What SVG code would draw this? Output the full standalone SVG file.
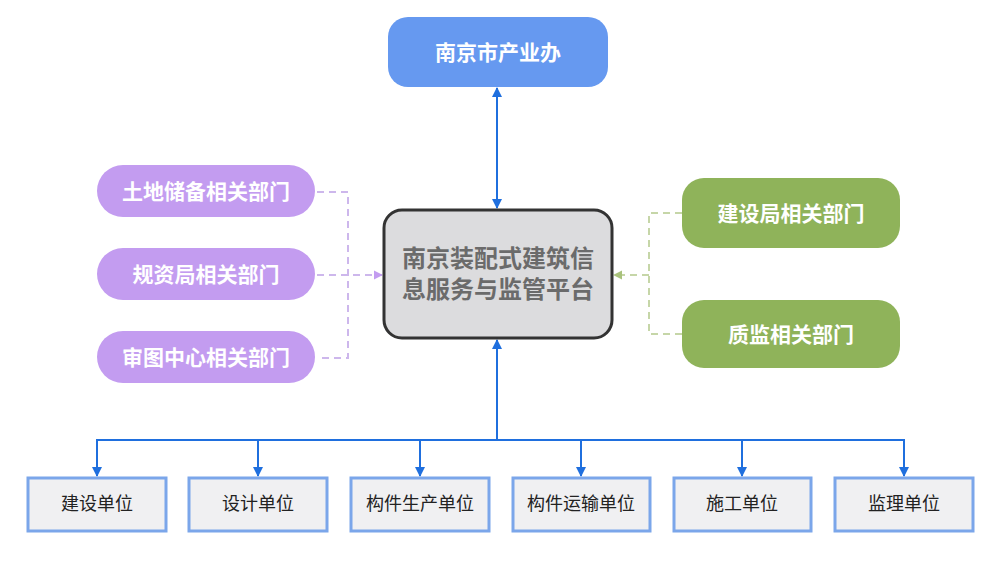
<svg xmlns="http://www.w3.org/2000/svg" width="1000" height="562" viewBox="0 0 1000 562">
<defs>
<style>
.cn{font-family:"Liberation Sans","Noto Sans CJK SC",sans-serif;text-anchor:middle;dominant-baseline:central}
.wb{fill:#fff;font-weight:bold;font-size:21px}
.unit rect{fill:#f0f0f2;stroke:#7ba6ea;stroke-width:3}
.unit text{fill:#222;font-size:18px}
.purple rect{fill:#c39cf0}
.green rect{fill:#8fb35a}
.blue{stroke:#1f6fde;stroke-width:2;fill:none}
.pd{stroke:#cdb7ec;stroke-width:2;fill:none;stroke-dasharray:7 5}
.gd{stroke:#c6d6a8;stroke-width:2;fill:none;stroke-dasharray:7 5}
</style>
<marker id="abig" viewBox="0 0 10 10" refX="9" refY="5" markerWidth="10" markerHeight="15" orient="auto-start-reverse" markerUnits="userSpaceOnUse"><path d="M0,0L10,5L0,10z" fill="#1f6fde"/></marker>
<marker id="ap" viewBox="0 0 10 10" refX="9" refY="5" markerWidth="9" markerHeight="13" orient="auto" markerUnits="userSpaceOnUse"><path d="M0,0L10,5L0,10z" fill="#c39cf0"/></marker>
<marker id="ag" viewBox="0 0 10 10" refX="9" refY="5" markerWidth="9" markerHeight="13" orient="auto" markerUnits="userSpaceOnUse"><path d="M0,0L10,5L0,10z" fill="#a9c27c"/></marker>
</defs>
<rect width="1000" height="562" fill="#ffffff"/>
<g id="connectors">
<line class="blue" x1="497" y1="88" x2="497" y2="208" marker-start="url(#abig)" marker-end="url(#abig)"/>
<line class="blue" x1="497" y1="440" x2="497" y2="340" marker-end="url(#abig)"/>
<polyline class="blue" points="97,476 97,440 904,440 904,476" marker-start="url(#abig)" marker-end="url(#abig)"/>
<line class="blue" x1="258" y1="440" x2="258" y2="476" marker-end="url(#abig)"/>
<line class="blue" x1="420" y1="440" x2="420" y2="476" marker-end="url(#abig)"/>
<line class="blue" x1="581" y1="440" x2="581" y2="476" marker-end="url(#abig)"/>
<line class="blue" x1="742" y1="440" x2="742" y2="476" marker-end="url(#abig)"/>
<polyline class="pd" points="317,192 348,192 348,358 317,358"/>
<line class="pd" x1="317" y1="275" x2="382" y2="275" marker-end="url(#ap)"/>
<polyline class="gd" points="682,213 649,213 649,334 682,334"/>
<line class="gd" x1="649" y1="275" x2="614" y2="275" marker-end="url(#ag)"/>
</g>
<g id="top">
<rect x="388" y="17" width="220" height="70" rx="20" fill="#6699f0"/>
<text class="cn wb" x="498" y="52" font-size="22">南京市产业办</text>
</g>
<g id="center">
<rect x="384" y="210" width="228" height="128" rx="18" fill="#dcdcde" stroke="#333" stroke-width="3"/>
<text class="cn" x="498" y="258" font-size="24" font-weight="bold" fill="#6b6b6b">南京装配式建筑信</text>
<text class="cn" x="498" y="289" font-size="24" font-weight="bold" fill="#6b6b6b">息服务与监管平台</text>
</g>
<g id="p1" class="purple"><rect x="97" y="165" width="218" height="52" rx="26"/><text class="cn wb" x="206" y="191">土地储备相关部门</text></g>
<g id="p2" class="purple"><rect x="97" y="248" width="218" height="52" rx="26"/><text class="cn wb" x="206" y="274">规资局相关部门</text></g>
<g id="p3" class="purple"><rect x="97" y="331" width="218" height="52" rx="26"/><text class="cn wb" x="206" y="357">审图中心相关部门</text></g>
<g id="g1" class="green"><rect x="682" y="178" width="218" height="70" rx="22"/><text class="cn wb" x="791" y="213">建设局相关部门</text></g>
<g id="g2" class="green"><rect x="682" y="300" width="218" height="68" rx="22"/><text class="cn wb" x="791" y="334">质监相关部门</text></g>
<g id="u1" class="unit"><rect x="28" y="478" width="138" height="53"/><text class="cn" x="97" y="504">建设单位</text></g>
<g id="u2" class="unit"><rect x="189" y="478" width="138" height="53"/><text class="cn" x="258" y="504">设计单位</text></g>
<g id="u3" class="unit"><rect x="351" y="478" width="138" height="53"/><text class="cn" x="420" y="504">构件生产单位</text></g>
<g id="u4" class="unit"><rect x="513" y="478" width="137" height="53"/><text class="cn" x="581" y="504">构件运输单位</text></g>
<g id="u5" class="unit"><rect x="674" y="478" width="137" height="53"/><text class="cn" x="742" y="504">施工单位</text></g>
<g id="u6" class="unit"><rect x="835" y="478" width="138" height="53"/><text class="cn" x="904" y="504">监理单位</text></g>
</svg>
